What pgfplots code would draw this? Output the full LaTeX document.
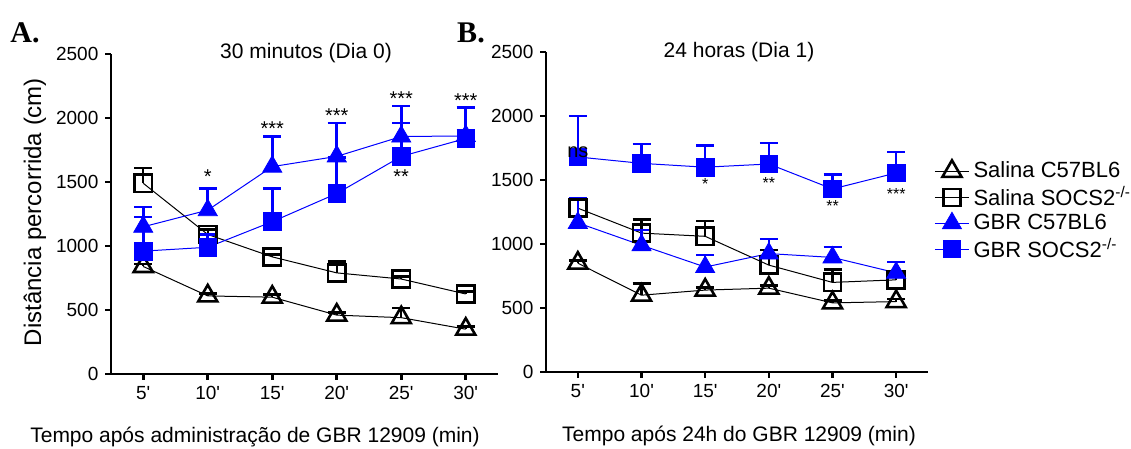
\documentclass[border=0pt]{standalone}
\usepackage{pgfplots}
\pgfplotsset{compat=1.18}
\usepackage{pgfplotstable}
\usepackage{fontspec}
\setmainfont{Liberation Sans}[Ligatures=TeXOff]
\newfontfamily\letterfont{Liberation Serif}

% Panel A
\pgfplotstableread{
x y e
1 840 20
2 610 20
3 600 20
4 460 20
5 440 75
6 350 20
}\AsalC
\pgfplotstableread{
x y e
1 1490 120
2 1090 40
3 915 20
4 790 90
5 742 20
6 625 20
}\AsalS
\pgfplotstableread{
x y e
1 1150 155
2 1280 170
3 1620 235
4 1700 260
5 1855 240
6 1860 45
}\AgbrC
\pgfplotstableread{
x y e
1 960 265
2 990 100
3 1190 260
4 1410 280
5 1700 260
6 1840 240
}\AgbrS
% Panel B
\pgfplotstableread{
x y e
1 850 20
2 600 90
3 640 20
4 655 20
5 540 20
6 550 20
}\BsalC
\pgfplotstableread{
x y e
1 1280 80
2 1085 105
3 1060 120
4 835 120
5 700 100
6 720 40
}\BsalS
\pgfplotstableread{
x y e
1 1165 190
2 990 120
3 820 95
4 925 115
5 895 80
6 775 85
}\BgbrC
\pgfplotstableread{
x y e
1 1680 320
2 1630 150
3 1600 170
4 1625 165
5 1430 115
6 1555 165
}\BgbrS

\pgfplotsset{
 panel/.style={
  scale only axis, height=160pt,
  axis lines*=left,
  xmin=0.5, xmax=6.5, ymin=0, ymax=2500,
  xtick={1,...,6}, xticklabels={5',10',15',20',25',30'},
  ytick={0,500,...,2500},
  tick align=outside, major tick length=2.8pt,
  axis line style={line width=1.3pt},
  every tick/.style={line width=1.3pt, black},
  tick label style={font=\fontsize{9.5}{11}\selectfont},
  /pgf/number format/assume math mode=true,
  scaled y ticks=false,
  yticklabel style={/pgf/number format/1000 sep={}},
  clip=false,
 },
 salC/.style={black, line width=0.5pt, mark=triangle, mark size=5.5pt,
  mark options={line width=1.3pt, solid, fill=none},
  error bars/.cd, y dir=plus, y explicit,
  error bar style={line width=1.2pt, black},
  error mark options={rotate=90, mark size=4.5pt, line width=1.2pt}},
 salS/.style={black, line width=0.5pt, mark=square, mark size=4.3pt,
  mark options={line width=1.3pt, solid, fill=none},
  error bars/.cd, y dir=plus, y explicit,
  error bar style={line width=1.2pt, black},
  error mark options={rotate=90, mark size=4.5pt, line width=1.2pt}},
 gbrC/.style={blue, line width=0.5pt, mark=triangle*, mark size=5.5pt,
  mark options={line width=0.4pt, solid, fill=blue},
  error bars/.cd, y dir=plus, y explicit,
  error bar style={line width=1.3pt, blue},
  error mark options={rotate=90, mark size=4.5pt, line width=1.3pt}},
 gbrS/.style={blue, line width=0.5pt, mark=square*, mark size=4.4pt,
  mark options={line width=0.4pt, solid, fill=blue},
  error bars/.cd, y dir=plus, y explicit,
  error bar style={line width=1.3pt, blue},
  error mark options={rotate=90, mark size=4.5pt, line width=1.3pt}},
}

\begin{document}
\begin{tikzpicture}[x=1pt,y=1pt]
\path[use as bounding box] (0,0) rectangle (565.5,224.5);

\begin{axis}[panel, width=193.5pt, at={(55.5pt,37.5pt)}, anchor=south west]
\addplot[salC] table[x=x,y=y,y error=e] {\AsalC};
\addplot[salS] table[x=x,y=y,y error=e] {\AsalS};
\addplot[gbrC] table[x=x,y=y,y error=e] {\AgbrC};
\addplot[gbrS] table[x=x,y=y,y error=e] {\AgbrS};
\begin{scope}[every node/.style={font=\fontsize{10}{12}\selectfont, inner sep=0pt}]
\node at (axis cs:2,1540) {*};
\node at (axis cs:3,1915) {***};
\node at (axis cs:4,2017) {***};
\node at (axis cs:5,2150) {***};
\node at (axis cs:5,1540) {**};
\node at (axis cs:6,2134) {***};
\end{scope}
\end{axis}

\begin{axis}[panel, width=191pt, at={(273pt,38.5pt)}, anchor=south west,
  legend style={at={(1.0,0.683)}, anchor=north west, draw=none, fill=none,
   font=\fontsize{11}{13}\selectfont, row sep=-1.2pt},
  legend cell align=left]
\addplot[salC] table[x=x,y=y,y error=e] {\BsalC};
\addlegendentry{Salina C57BL6}
\addplot[salS] table[x=x,y=y,y error=e] {\BsalS};
\addlegendentry{Salina SOCS2\textsuperscript{-/-}}
\addplot[gbrC] table[x=x,y=y,y error=e] {\BgbrC};
\addlegendentry{GBR C57BL6}
\addplot[gbrS] table[x=x,y=y,y error=e] {\BgbrS};
\addlegendentry{GBR SOCS2\textsuperscript{-/-}}
\coordinate (ns) at (axis cs:1,1720);
\begin{scope}[every node/.style={font=\fontsize{8}{10}\selectfont, inner sep=0pt}]
\node at (axis cs:3,1465) {*};
\node at (axis cs:4,1480) {**};
\node at (axis cs:5,1300) {**};
\node at (axis cs:6,1394) {***};
\end{scope}
\end{axis}
\node[font=\fontsize{10}{12}\selectfont, inner sep=0pt] at (ns) {ns};

\node[font=\fontsize{10.5}{12}\selectfont] at (153,198) {30 minutos (Dia 0)};
\node[font=\fontsize{10.5}{12}\selectfont] at (369.5,198.5) {24 horas (Dia 1)};
\node[font=\fontsize{10.5}{12}\selectfont] at (127.5,6) {Tempo após administração de GBR 12909 (min)};
\node[font=\fontsize{10.5}{12}\selectfont] at (369.5,6.5) {Tempo após 24h do GBR 12909 (min)};
\node[rotate=90, font=\fontsize{12}{14}\selectfont] at (17.5,118.5) {Distância percorrida (cm)};
\node[font=\letterfont\bfseries\fontsize{15}{17}\selectfont] at (12.5,208) {A.};
\node[font=\letterfont\bfseries\fontsize{15}{17}\selectfont] at (235.5,208) {B.};
\end{tikzpicture}
\end{document}
